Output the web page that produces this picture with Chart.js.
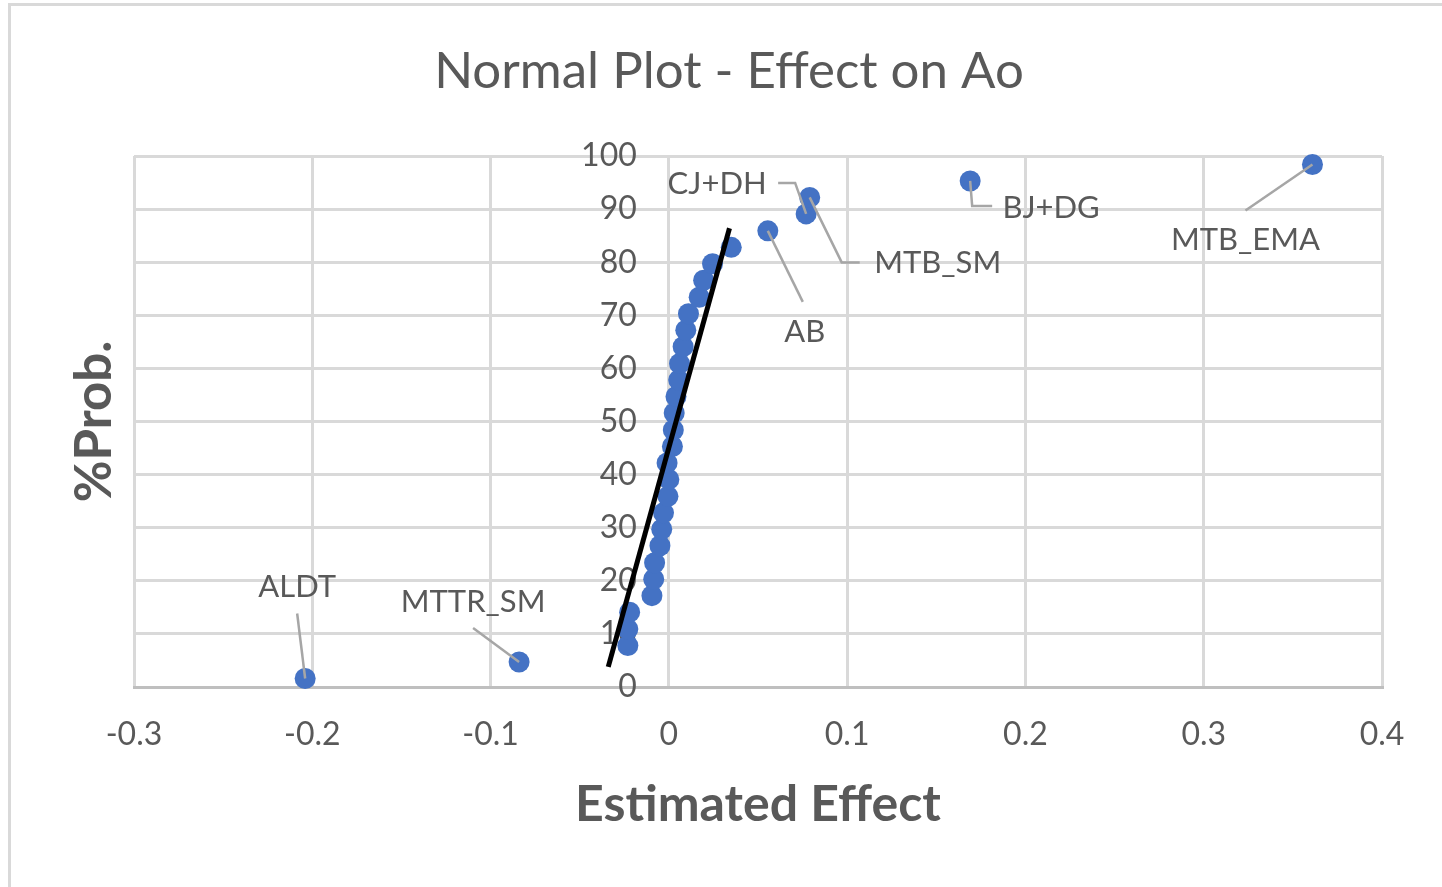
<!DOCTYPE html>
<html lang="en">
<head>
  <meta charset="UTF-8"/>
  <title>Normal Plot - Effect on Ao</title>
  <script src="https://cdn.jsdelivr.net/npm/chart.js"></script>
  <style>
    html, body { margin: 0; padding: 0; background: #fff; overflow: hidden; }
    .wrap { position: absolute; left: 0; top: 0; width: 1442px; height: 887px; }
    .frame { position: absolute; left: 8px; top: 3px; width: 1450px; height: 900px;
      border: 3px solid #d9d9d9; pointer-events: none; }
  </style>
</head>
<body>

<div class="wrap"><canvas id="normChart" width="1442" height="887"></canvas></div>
<div class="frame"></div>

<script>
  // effects, ordered by rank
  const effectNames = ['ALDT', 'MTTR_SM', '', '', '', '', '', '', '', '', '', '', '', '', '', '',
    '', '', '', '', '', '', '', '', '', '', '', 'AB', 'CJ+DH', 'MTB_SM', 'BJ+DG', 'MTB_EMA'];
  const effects = [-0.204, -0.084, -0.023, -0.023, -0.022, -0.0095, -0.0085, -0.008, -0.005, -0.004,
    -0.003, -0.0005, 0.0, -0.001, 0.002, 0.0025, 0.003, 0.004, 0.0055, 0.006,
    0.008, 0.0095, 0.011, 0.017, 0.0195, 0.0245, 0.035, 0.0555, 0.077, 0.079, 0.169, 0.361];
  const probs = [1.6, 4.7, 7.8, 10.9, 14.1, 17.2, 20.3, 23.4, 26.6, 29.7,
    32.8, 35.9, 39.1, 42.2, 45.3, 48.4, 51.6, 54.7, 57.8, 60.9,
    64.1, 67.2, 70.3, 73.4, 76.6, 79.7, 82.8, 85.9, 89.1, 92.2, 95.3, 98.4];

  // hand-drawn reference line (two end points)
  const refLineX = [-0.034, 0.034];
  const refLineY = [3.8, 86.4];

  const xTicks = [-0.3, -0.2, -0.1, 0, 0.1, 0.2, 0.3, 0.4];

  // where each data label sits, in pixels relative to its point
  const labelSpots = {
    'ALDT':    { dx: -8,  dy: -92, leader: [[-8, -65], [0, 0]] },
    'MTTR_SM': { dx: -46, dy: -60, leader: [[-46, -34], [0, 0]] },
    'AB':      { dx: 37,  dy: 101, leader: [[35, 71], [0, 0]] },
    'CJ+DH':   { dx: -89, dy: -30, leader: [[-28, -31], [-11, -31], [0, 0]] },
    'MTB_SM':  { dx: 128, dy: 66,  leader: [[50, 65], [32, 65], [0, 0]] },
    'BJ+DG':   { dx: 81,  dy: 27,  leader: [[0, 0], [2, 25], [22, 25]] },
    'MTB_EMA': { dx: -67, dy: 76,  leader: [[-67, 46], [0, 0]] }
  };

  const textColor = '#595959';
  const fontFamily = 'Lato, "Open Sans", sans-serif';

  const pointLabels = {
    id: 'pointLabels',
    afterDatasetsDraw(chart) {
      const ctx = chart.ctx;
      const meta = chart.getDatasetMeta(1);
      ctx.save();
      ctx.font = '31px ' + fontFamily;
      ctx.textAlign = 'center';
      ctx.textBaseline = 'middle';
      meta.data.forEach((pt, i) => {
        const spot = labelSpots[effectNames[i]];
        if (!spot) return;
        ctx.strokeStyle = '#a6a6a6';
        ctx.lineWidth = 2.5;
        ctx.beginPath();
        spot.leader.forEach(([lx, ly], k) => {
          if (k === 0) ctx.moveTo(pt.x + lx, pt.y + ly);
          else ctx.lineTo(pt.x + lx, pt.y + ly);
        });
        ctx.stroke();
        ctx.fillStyle = textColor;
        ctx.fillText(effectNames[i], pt.x + spot.dx, pt.y + spot.dy);
      });
      ctx.restore();
    }
  };

  new Chart(document.getElementById('normChart'), {
    type: 'scatter',
    data: {
      datasets: [
        {
          label: 'reference',
          type: 'line',
          data: refLineX.map((x, i) => ({ x: x, y: refLineY[i] })),
          borderColor: '#000000',
          borderWidth: 5,
          pointRadius: 0,
          fill: false,
          order: 0
        },
        {
          label: 'effects',
          data: effects.map((x, i) => ({ x: x, y: probs[i] })),
          backgroundColor: '#4472c4',
          borderColor: '#4472c4',
          borderWidth: 0,
          pointRadius: 10.5,
          order: 1
        }
      ]
    },
    options: {
      responsive: false,
      animation: false,
      layout: { padding: { left: 76, right: 60, top: 0, bottom: 0 } },
      plugins: {
        legend: { display: false },
        tooltip: { enabled: false },
        title: {
          display: true,
          text: 'Normal Plot - Effect on Ao',
          color: textColor,
          font: { family: fontFamily, size: 51, weight: 'normal' },
          padding: { top: 41.4, bottom: 53.4 }
        }
      },
      scales: {
        x: {
          type: 'linear',
          position: 'bottom',
          min: -0.3,
          max: 0.4,
          afterBuildTicks: s => { s.ticks = xTicks.map(v => ({ value: v })); },
          afterFit: s => { s.height = 200; },
          ticks: {
            color: textColor,
            font: { family: fontFamily, size: 32 },
            padding: 28,
            callback: v => (v === 0 ? '0' : String(v))
          },
          grid: { color: '#d9d9d9', lineWidth: 3, drawTicks: false },
          border: { display: true, color: '#bfbfbf', width: 3 },
          title: {
            display: true,
            text: 'Estimated Effect',
            color: textColor,
            font: { family: fontFamily, size: 50, weight: 'bold' },
            padding: { top: 0, bottom: 52 }
          }
        },
        // empty left axis: only holds the axis title and the gap before the plot
        yLeft: {
          type: 'linear',
          position: 'left',
          afterFit: s => { s.width = 58; },
          ticks: { display: false },
          grid: { display: false },
          border: { display: false },
          title: {
            display: true,
            text: '%Prob.',
            color: textColor,
            font: { family: fontFamily, size: 51, weight: 'bold' },
            padding: { top: -12, bottom: 0 }
          }
        },
        y: {
          type: 'linear',
          // labels sit just left of the x = 0 gridline, as in the Excel chart
          position: { x: -0.018 },
          min: 0,
          max: 100,
          ticks: {
            stepSize: 10,
            color: textColor,
            font: { family: fontFamily, size: 32 }
          },
          grid: {
            color: ctx => (ctx.tick && ctx.tick.value === 0 ? '#bfbfbf' : '#d9d9d9'),
            lineWidth: 3,
            drawTicks: false
          },
          border: { display: false }
        }
      }
    },
    plugins: [pointLabels]
  });
</script>

</body>
</html>
